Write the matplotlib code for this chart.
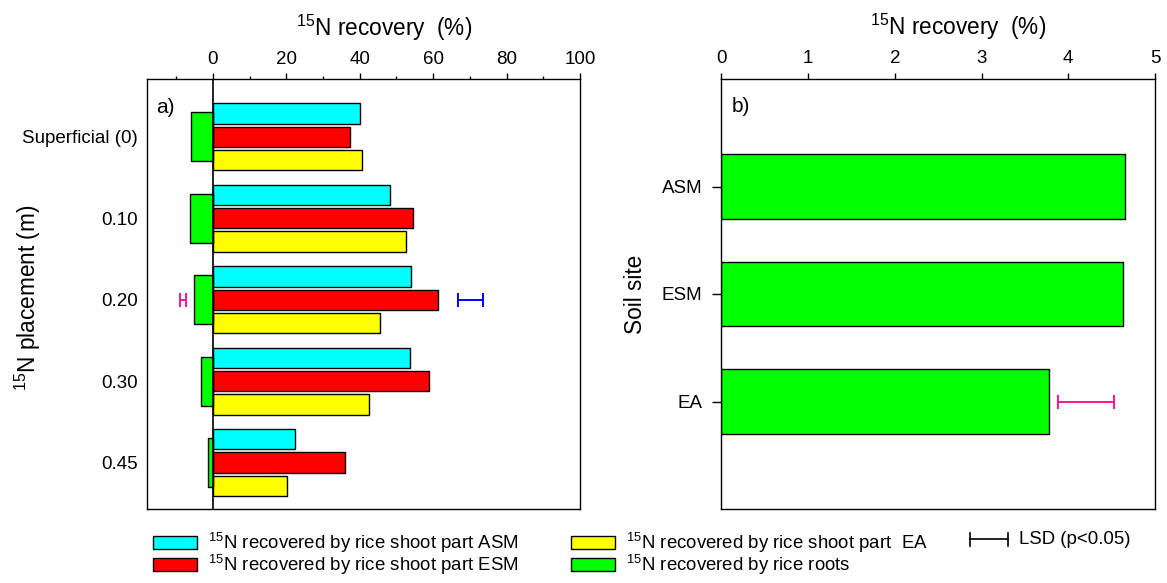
import numpy as np
import matplotlib
matplotlib.use('Agg')
import matplotlib.pyplot as plt
from matplotlib.lines import Line2D

plt.rcParams['font.family'] = ['Liberation Sans', 'DejaVu Sans']
plt.rcParams['mathtext.fontset'] = 'custom'
plt.rcParams['mathtext.rm'] = 'Liberation Sans'
plt.rcParams['mathtext.it'] = 'Liberation Sans:italic'
plt.rcParams['mathtext.bf'] = 'Liberation Sans:bold'

# Panel a: 15N recovery (%) by placement depth
depths = ['Superficial (0)', '0.10', '0.20', '0.30', '0.45']
shoot_asm = [40.0, 48.2, 53.9, 53.8, 22.5]
shoot_esm = [37.4, 54.5, 61.2, 58.8, 35.9]
shoot_ea = [40.6, 52.5, 45.4, 42.6, 20.2]
roots = [6.0, 6.2, 5.1, 3.3, 1.4]  # drawn to the left of zero

# LSD (p<0.05) bars of panel a: start and width, shown on the 0.20 row
lsd_shoot = [66.7, 6.9]
lsd_roots = [-8.8, 1.4]

# Panel b: 15N recovery (%) by rice roots per soil site
sites = ['ASM', 'ESM', 'EA']
roots_site = [4.65, 4.63, 3.78]
lsd_site = [3.88, 0.65]

W, H = 1167, 583
fig = plt.figure(figsize=(W / 100, H / 100), dpi=100)

def px_box(left, top, right, bottom):
    return [left / W, 1 - bottom / H, (right - left) / W, (bottom - top) / H]

ax_a = fig.add_axes(px_box(146.7, 79, 580, 509))
ax_b = fig.add_axes(px_box(721.3, 79, 1155, 509))

# --- panel a ---
y = np.arange(len(depths))
off = 0.286
b_asm = ax_a.barh(y - off, shoot_asm, height=0.25, color='#00FFFF', edgecolor='k', linewidth=1)
b_esm = ax_a.barh(y, shoot_esm, height=0.25, color='#FF0000', edgecolor='k', linewidth=1)
b_ea = ax_a.barh(y + off, shoot_ea, height=0.25, color='#FFFF00', edgecolor='k', linewidth=1)
b_root = ax_a.barh(y, -np.array(roots), height=0.6, color='#00FF00', edgecolor='k', linewidth=1)
ax_a.axvline(0, color='k', linewidth=1.2)

row = depths.index('0.20')
ax_a.errorbar(lsd_shoot[0] + lsd_shoot[1] / 2, row, xerr=lsd_shoot[1] / 2,
              color='#0000FF', capsize=4.7, capthick=1.4, linewidth=1.4)
ax_a.errorbar(lsd_roots[0] + lsd_roots[1] / 2, row, xerr=lsd_roots[1] / 2,
              color='#FF1493', capsize=4.7, capthick=1.4, linewidth=1.4)

ax_a.set_xlim(-18, 100)
ax_a.set_ylim(4.57, -0.71)
ax_a.xaxis.tick_top()
ax_a.xaxis.set_label_position('top')
ax_a.set_xticks(np.arange(0, 101, 20))
ax_a.set_xticks([-10, 10, 30, 50, 70, 90], minor=True)
ax_a.tick_params(axis='x', which='major', length=4, width=1, labelsize=13.5, pad=4)
ax_a.tick_params(axis='x', which='minor', length=2.5, width=1)
ax_a.set_yticks(y, depths)
ax_a.tick_params(axis='y', length=0, pad=6.3, labelsize=13.5)
ax_a.set_xlabel('$^{15}$N recovery  (%)', fontsize=16.3, labelpad=11)
ax_a.xaxis.label.set_x(0.548)
ax_a.set_ylabel('$^{15}$N placement (m)', fontsize=16.3)
ax_a.yaxis.set_label_coords(-0.24, 0.49)
ax_a.text(0.0215, 0.933, 'a)', transform=ax_a.transAxes, fontsize=15, ha='left', va='center')

# --- panel b ---
ys = np.arange(len(sites))
ax_b.barh(ys, roots_site, height=0.6, color='#00FF00', edgecolor='k', linewidth=1)
ax_b.errorbar(lsd_site[0] + lsd_site[1] / 2, sites.index('EA'), xerr=lsd_site[1] / 2,
              color='#FF1493', capsize=4.7, capthick=1.4, linewidth=1.4)
ax_b.set_xlim(0, 5)
ax_b.set_ylim(3, -1)
ax_b.xaxis.tick_top()
ax_b.xaxis.set_label_position('top')
ax_b.set_xticks(range(0, 6))
ax_b.tick_params(axis='x', length=4.5, width=1, labelsize=13.5, pad=4)
ax_b.set_yticks(ys, sites)
ax_b.tick_params(axis='y', length=6.5, width=1, pad=7, labelsize=13.5)
ax_b.set_xlabel('$^{15}$N recovery  (%)', fontsize=16.3, labelpad=11)
ax_b.xaxis.label.set_x(0.546)
ax_b.set_ylabel('Soil site', fontsize=16.3)
ax_b.yaxis.set_label_coords(-0.171, 0.5)
ax_b.text(0.0247, 0.935, 'b)', transform=ax_b.transAxes, fontsize=15, ha='left', va='center')

for ax in (ax_a, ax_b):
    for s in ax.spines.values():
        s.set_linewidth(1)

# --- legend ---
labels = ['$^{15}$N recovered by rice shoot part ASM',
          '$^{15}$N recovered by rice shoot part ESM',
          '$^{15}$N recovered by rice shoot part  EA',
          '$^{15}$N recovered by rice roots']
fig.legend([b_asm, b_esm, b_ea, b_root], labels, ncol=2, loc='upper left',
           bbox_to_anchor=(153 / W, 1 - 531 / H), frameon=False, fontsize=13.4,
           borderpad=0, borderaxespad=0, handlelength=2.37, handleheight=0.7,
           handletextpad=0.6, columnspacing=2.8, labelspacing=-0.1)

# LSD key
ly = 1 - 539 / H
x0, x1 = 970 / W, 1008 / W
cap = 6.5 / H
fig.add_artist(Line2D([x0, x1], [ly, ly], color='k', linewidth=1.2, transform=fig.transFigure))
for xc in (x0, x1):
    fig.add_artist(Line2D([xc, xc], [ly - cap, ly + cap], color='k', linewidth=1.2, transform=fig.transFigure))
fig.text(1019 / W, ly, 'LSD (p<0.05)', fontsize=13.4, ha='left', va='center')

fig.savefig('out.png', dpi=100)
